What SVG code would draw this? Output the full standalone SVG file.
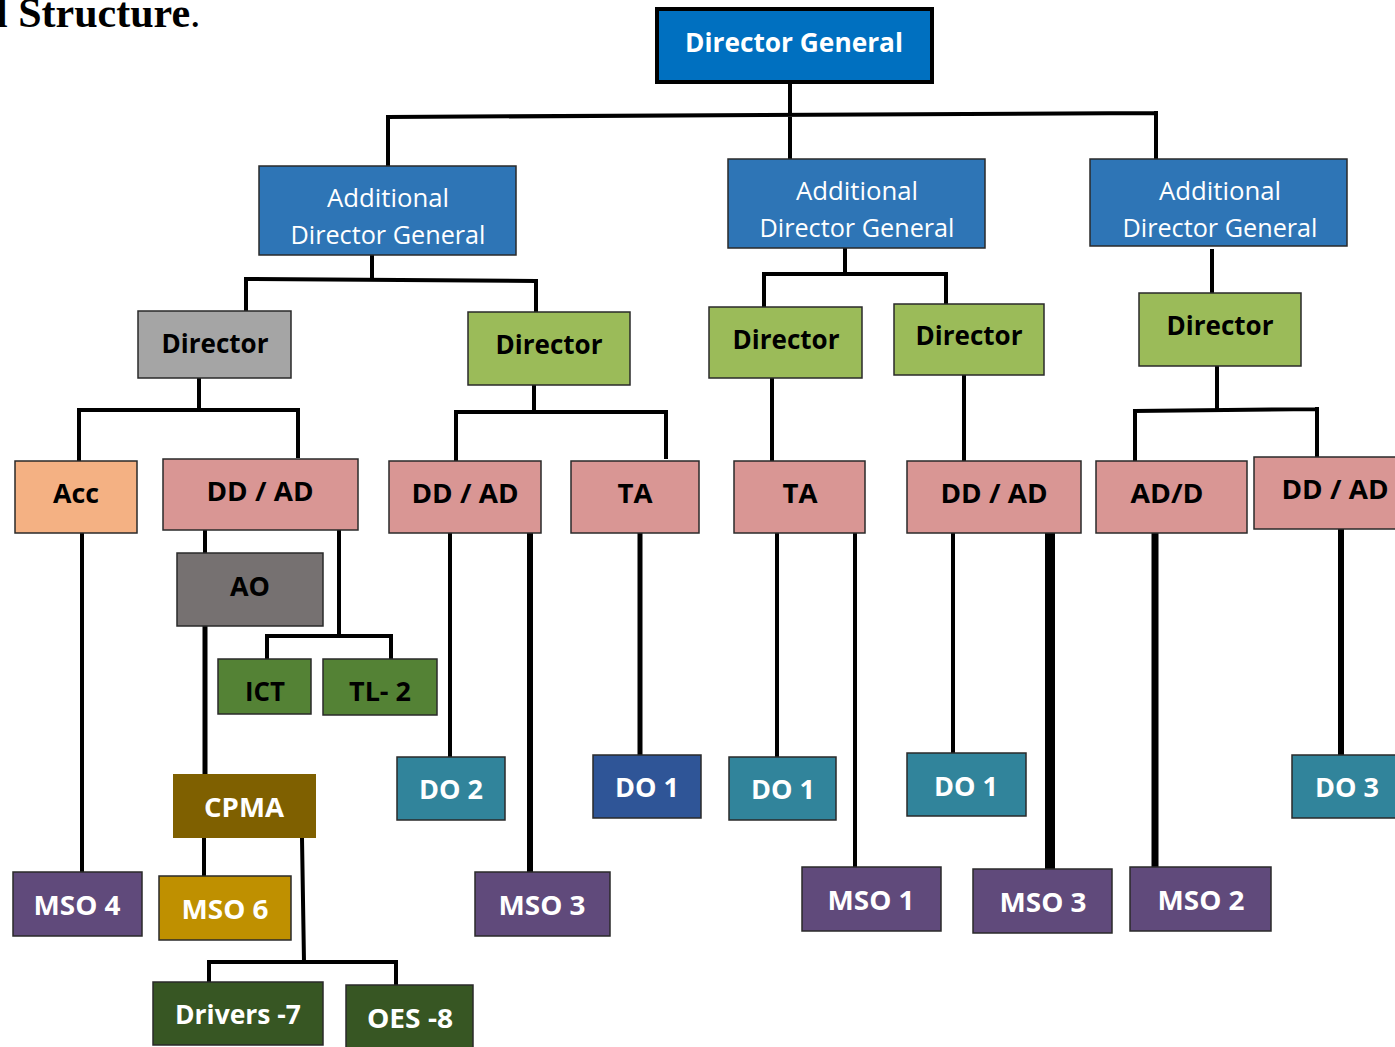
<svg xmlns="http://www.w3.org/2000/svg" width="1395" height="1047" viewBox="0 0 1395 1047">
<style>
.b{stroke:#2a2a2a;stroke-width:1.5}
.t{font-family:"Open Sans","Noto Sans",sans-serif;font-weight:700;font-size:27px;text-anchor:middle;fill:#000}
.w{fill:#fff}
.r{font-weight:400;fill:#fff;font-size:26px}
.c{stroke:#000;fill:none;stroke-width:4;stroke-linecap:square}
</style>
<rect width="1395" height="1047" fill="#fff"/>
<text x="-4" y="27" font-family="Liberation Serif,serif" font-weight="700" font-size="42" fill="#000">l Structure<tspan font-weight="400">.</tspan></text>

<g id="connectors">
<path class="c" d="M790 82V162M388 117L1156 113M388 117V165M1156 113V158"/>
<path class="c" d="M372 255V279M246 279L536 281M246 279V310M536 281V311"/>
<path class="c" d="M845 248V273M764 274H946M764 274V306M946 274V303"/>
<path class="c" d="M1212 251V296"/>
<path class="c" d="M199 378V410M79 410H298M79 410V460M298 410V456"/>
<path class="c" d="M534 385V410M456 412H666M456 412V460M666 412V457"/>
<path class="c" d="M772 378V460"/>
<path class="c" d="M964 375V460"/>
<path class="c" d="M1217 366V410M1135 411L1317 409M1135 411V460M1317 409V457"/>
<path class="c" d="M82 533V873"/>
<path class="c" d="M205 530V552M339 530V636M267 636H391M267 636V658M391 636V658"/>
<path class="c" d="M205 626V773" style="stroke-width:5"/>
<path class="c" d="M204 838V875M302 838L304 962M209 962H396M209 962V981M396 962V984"/>
<path class="c" d="M450 533V756"/>
<path class="c" d="M530 533V871" style="stroke-width:6"/>
<path class="c" d="M640 533V754" style="stroke-width:5"/>
<path class="c" d="M777 533V756M855 533V866"/>
<path class="c" d="M953 533V752"/>
<path class="c" d="M1050 533V868" style="stroke-width:10"/>
<path class="c" d="M1155 533V866" style="stroke-width:7"/>
<path class="c" d="M1341 529V754" style="stroke-width:6"/>
</g>

<g id="dg"><rect x="657" y="9" width="275" height="73" fill="#0070C0" stroke="#000" stroke-width="4"/><text class="t w" x="794" y="52" textLength="218" lengthAdjust="spacingAndGlyphs">Director General</text></g>

<g id="adg1"><rect class="b" x="259" y="166" width="257" height="89" fill="#2E75B6"/><text class="t r" x="388" y="207" textLength="122" lengthAdjust="spacingAndGlyphs">Additional</text><text class="t r" x="388" y="244" textLength="195" lengthAdjust="spacingAndGlyphs">Director General</text></g>
<g id="adg2"><rect class="b" x="728" y="159" width="257" height="89" fill="#2E75B6"/><text class="t r" x="857" y="200" textLength="122" lengthAdjust="spacingAndGlyphs">Additional</text><text class="t r" x="857" y="237" textLength="195" lengthAdjust="spacingAndGlyphs">Director General</text></g>
<g id="adg3"><rect class="b" x="1090" y="159" width="257" height="87" fill="#2E75B6"/><text class="t r" x="1220" y="200" textLength="122" lengthAdjust="spacingAndGlyphs">Additional</text><text class="t r" x="1220" y="237" textLength="195" lengthAdjust="spacingAndGlyphs">Director General</text></g>

<g id="dir1"><rect class="b" x="138" y="311" width="153" height="67" fill="#A5A5A5"/><text class="t" x="215" y="353" textLength="107" lengthAdjust="spacingAndGlyphs">Director</text></g>
<g id="dir2"><rect class="b" x="468" y="312" width="162" height="73" fill="#9BBB59"/><text class="t" x="549" y="354" textLength="107" lengthAdjust="spacingAndGlyphs">Director</text></g>
<g id="dir3"><rect class="b" x="709" y="307" width="153" height="71" fill="#9BBB59"/><text class="t" x="786" y="349" textLength="107" lengthAdjust="spacingAndGlyphs">Director</text></g>
<g id="dir4"><rect class="b" x="894" y="304" width="150" height="71" fill="#9BBB59"/><text class="t" x="969" y="345" textLength="107" lengthAdjust="spacingAndGlyphs">Director</text></g>
<g id="dir5"><rect class="b" x="1139" y="293" width="162" height="73" fill="#9BBB59"/><text class="t" x="1220" y="335" textLength="107" lengthAdjust="spacingAndGlyphs">Director</text></g>

<g id="acc"><rect class="b" x="15" y="461" width="122" height="72" fill="#F4B183"/><text class="t" x="76" y="503" textLength="46" lengthAdjust="spacingAndGlyphs">Acc</text></g>
<g id="ddad1"><rect class="b" x="163" y="459" width="195" height="71" fill="#D99694"/><text class="t" x="260" y="501" textLength="107" lengthAdjust="spacingAndGlyphs">DD / AD</text></g>
<g id="ddad2"><rect class="b" x="389" y="461" width="152" height="72" fill="#D99694"/><text class="t" x="465" y="503" textLength="107" lengthAdjust="spacingAndGlyphs">DD / AD</text></g>
<g id="ta1"><rect class="b" x="571" y="461" width="128" height="72" fill="#D99694"/><text class="t" x="635" y="503" textLength="35" lengthAdjust="spacingAndGlyphs">TA</text></g>
<g id="ta2"><rect class="b" x="734" y="461" width="131" height="72" fill="#D99694"/><text class="t" x="800" y="503" textLength="35" lengthAdjust="spacingAndGlyphs">TA</text></g>
<g id="ddad3"><rect class="b" x="907" y="461" width="174" height="72" fill="#D99694"/><text class="t" x="994" y="503" textLength="107" lengthAdjust="spacingAndGlyphs">DD / AD</text></g>
<g id="add"><rect class="b" x="1096" y="461" width="151" height="72" fill="#D99694"/><text class="t" x="1167" y="503" textLength="73" lengthAdjust="spacingAndGlyphs">AD/D</text></g>
<g id="ddad4"><rect class="b" x="1254" y="457" width="150" height="72" fill="#D99694"/><text class="t" x="1335" y="499" textLength="107" lengthAdjust="spacingAndGlyphs">DD / AD</text></g>

<g id="ao"><rect class="b" x="177" y="553" width="146" height="73" fill="#767171"/><text class="t" x="250" y="596" textLength="40" lengthAdjust="spacingAndGlyphs">AO</text></g>
<g id="ict"><rect class="b" x="218" y="659" width="93" height="55" fill="#548235"/><text class="t" x="265" y="701" textLength="40" lengthAdjust="spacingAndGlyphs">ICT</text></g>
<g id="tl2"><rect class="b" x="323" y="659" width="114" height="56" fill="#548235"/><text class="t" x="380" y="701" textLength="62" lengthAdjust="spacingAndGlyphs">TL- 2</text></g>
<g id="cpma"><rect x="173" y="774" width="143" height="64" fill="#7F6000"/><text class="t w" x="244" y="817" textLength="80" lengthAdjust="spacingAndGlyphs">CPMA</text></g>

<g id="do2"><rect class="b" x="397" y="757" width="108" height="63" fill="#31849B"/><text class="t w" x="451" y="799" textLength="64" lengthAdjust="spacingAndGlyphs">DO 2</text></g>
<g id="do1a"><rect class="b" x="593" y="755" width="108" height="63" fill="#2F5597"/><text class="t w" x="647" y="797" textLength="64" lengthAdjust="spacingAndGlyphs">DO 1</text></g>
<g id="do1b"><rect class="b" x="729" y="757" width="107" height="63" fill="#31849B"/><text class="t w" x="783" y="799" textLength="64" lengthAdjust="spacingAndGlyphs">DO 1</text></g>
<g id="do1c"><rect class="b" x="907" y="753" width="119" height="63" fill="#31849B"/><text class="t w" x="966" y="796" textLength="64" lengthAdjust="spacingAndGlyphs">DO 1</text></g>
<g id="do3"><rect class="b" x="1292" y="755" width="110" height="63" fill="#31849B"/><text class="t w" x="1347" y="797" textLength="64" lengthAdjust="spacingAndGlyphs">DO 3</text></g>

<g id="mso4"><rect class="b" x="13" y="872" width="129" height="64" fill="#604A7B"/><text class="t w" x="77" y="915" textLength="87" lengthAdjust="spacingAndGlyphs">MSO 4</text></g>
<g id="mso6"><rect class="b" x="159" y="876" width="132" height="64" fill="#BF9000"/><text class="t w" x="225" y="919" textLength="87" lengthAdjust="spacingAndGlyphs">MSO 6</text></g>
<g id="mso3a"><rect class="b" x="475" y="872" width="135" height="64" fill="#604A7B"/><text class="t w" x="542" y="915" textLength="87" lengthAdjust="spacingAndGlyphs">MSO 3</text></g>
<g id="mso1"><rect class="b" x="802" y="867" width="139" height="64" fill="#604A7B"/><text class="t w" x="871" y="910" textLength="87" lengthAdjust="spacingAndGlyphs">MSO 1</text></g>
<g id="mso3b"><rect class="b" x="973" y="869" width="139" height="64" fill="#604A7B"/><text class="t w" x="1043" y="912" textLength="87" lengthAdjust="spacingAndGlyphs">MSO 3</text></g>
<g id="mso2"><rect class="b" x="1130" y="867" width="141" height="64" fill="#604A7B"/><text class="t w" x="1201" y="910" textLength="87" lengthAdjust="spacingAndGlyphs">MSO 2</text></g>

<g id="drivers"><rect class="b" x="153" y="982" width="170" height="63" fill="#375623"/><text class="t w" x="238" y="1024" textLength="126" lengthAdjust="spacingAndGlyphs">Drivers -7</text></g>
<g id="oes"><rect class="b" x="346" y="985" width="127" height="64" fill="#375623"/><text class="t w" x="410" y="1028" textLength="86" lengthAdjust="spacingAndGlyphs">OES -8</text></g>
</svg>
